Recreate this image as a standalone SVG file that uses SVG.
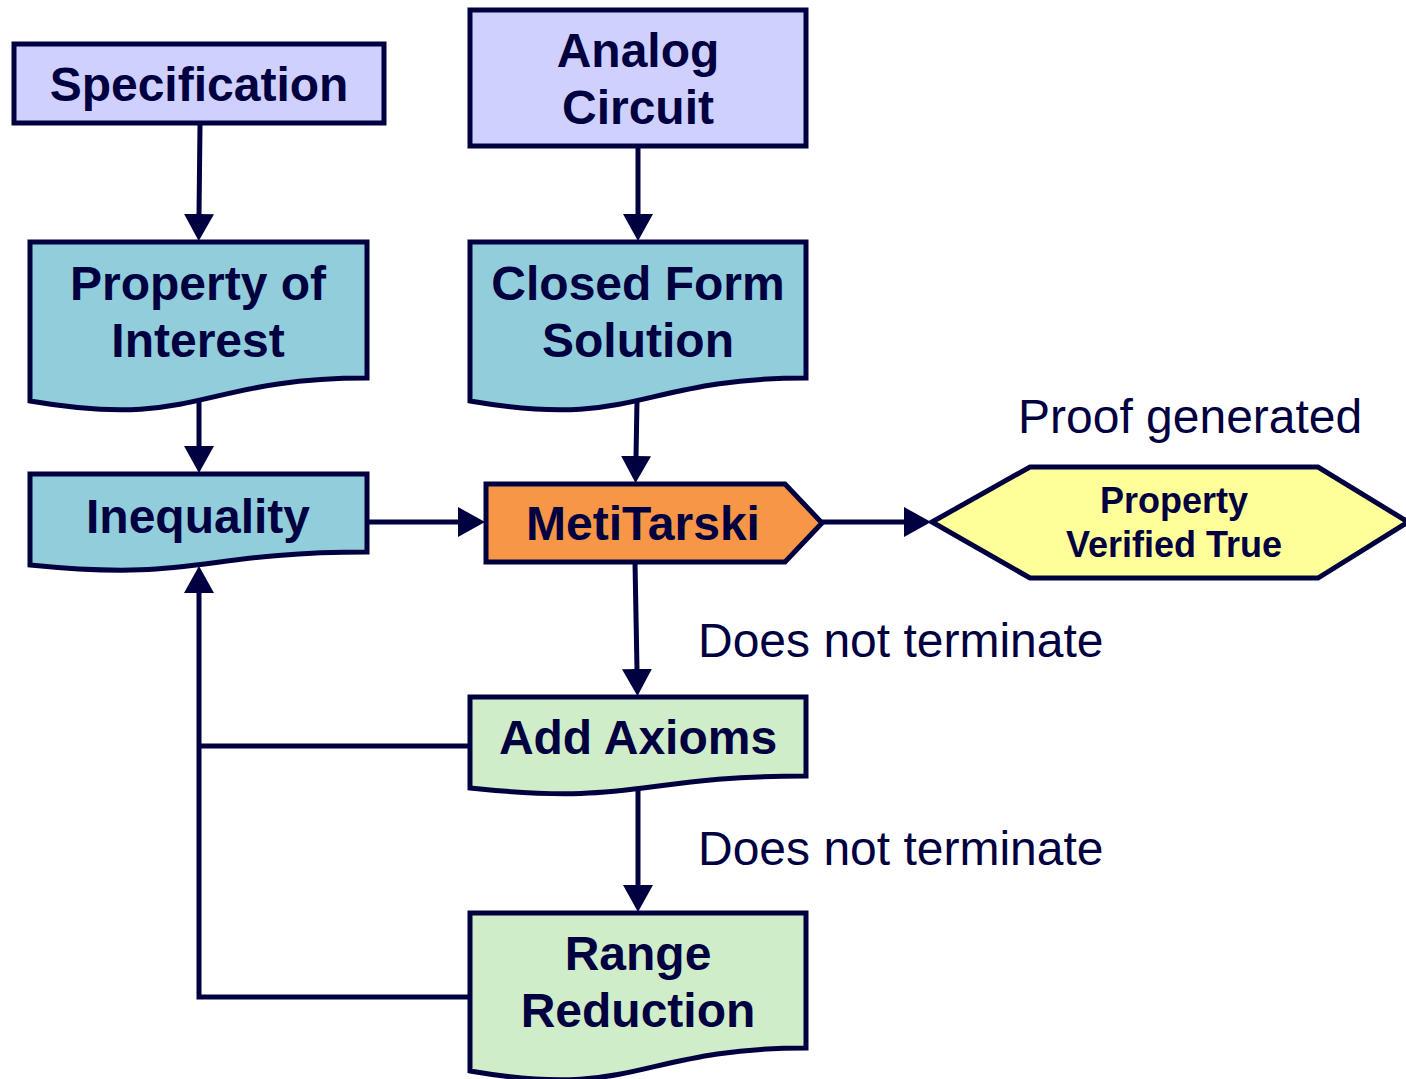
<svg xmlns="http://www.w3.org/2000/svg" width="1406" height="1079" viewBox="0 0 1406 1079">
  <style>
    .shape { stroke: #000040; stroke-width: 5; stroke-linejoin: miter; }
    .spec { fill: #d0d0ff; }
    .blue { fill: #92cddc; }
    .orange { fill: #f79646; }
    .green { fill: #cfedc9; }
    .yellow { fill: #ffff99; }
    .t { font-family: "Liberation Sans", Arial, sans-serif; font-weight: bold; font-size: 48px; fill: #000040; text-anchor: middle; }
    .small { font-size: 36px; }
    .label { font-family: "Liberation Sans", Arial, sans-serif; font-size: 48px; fill: #000040; }
    .edge { fill: none; stroke: #000040; stroke-width: 5; stroke-linejoin: miter; }
  </style>
  <defs>
    <marker id="arrow" viewBox="0 0 28 30" refX="1" refY="15" markerWidth="28" markerHeight="30" markerUnits="userSpaceOnUse" orient="auto">
      <path d="M0,0 L27,15 L0,30 Z" fill="#000040"/>
    </marker>
  </defs>

  <rect width="1406" height="1079" fill="#ffffff"/>

  <!-- connectors -->
  <g id="connectors">
    <path class="edge" d="M200,125 L199,215" marker-end="url(#arrow)"/>
    <path class="edge" d="M638,148 L638,215" marker-end="url(#arrow)"/>
    <path class="edge" d="M199,400 L199,447" marker-end="url(#arrow)"/>
    <path class="edge" d="M637,400 L636,457" marker-end="url(#arrow)"/>
    <path class="edge" d="M367,522 L459,522" marker-end="url(#arrow)"/>
    <path class="edge" d="M822,522 L905,522" marker-end="url(#arrow)"/>
    <path class="edge" d="M635,562 L637,670" marker-end="url(#arrow)"/>
    <path class="edge" d="M638,786 L638,886" marker-end="url(#arrow)"/>
    <path class="edge" d="M470,746 H199"/>
    <path class="edge" d="M470,997 H199 V592" marker-end="url(#arrow)"/>
  </g>

  <!-- Specification -->
  <g id="specification">
    <rect class="shape spec" x="14" y="44" width="370" height="79"/>
    <text class="t" x="199" y="101">Specification</text>
  </g>

  <!-- Analog Circuit -->
  <g id="analog-circuit">
    <rect class="shape spec" x="470" y="10" width="336" height="136"/>
    <text class="t" x="638" y="67">Analog</text>
    <text class="t" x="638" y="124">Circuit</text>
  </g>

  <!-- Property of Interest -->
  <g id="property-of-interest">
    <path class="shape blue" d="M30,242 H367 V378 C198.5,378 198.5,430 30,401 Z"/>
    <text class="t" x="198" y="300">Property of</text>
    <text class="t" x="198" y="357">Interest</text>
  </g>

  <!-- Closed Form Solution -->
  <g id="closed-form-solution">
    <path class="shape blue" d="M470,242 H806 V378 C638,378 638,430 470,401 Z"/>
    <text class="t" x="638" y="300">Closed Form</text>
    <text class="t" x="638" y="357">Solution</text>
  </g>

  <!-- Inequality -->
  <g id="inequality">
    <path class="shape blue" d="M30,474 H367 V552 C198.5,552 198.5,582 30,565 Z"/>
    <text class="t" x="198" y="533">Inequality</text>
  </g>

  <!-- MetiTarski -->
  <g id="metitarski">
    <path class="shape orange" d="M486,484 H785 L822,523 L785,562 H486 Z"/>
    <text class="t" x="643" y="540">MetiTarski</text>
  </g>

  <!-- Property Verified True -->
  <g id="property-verified">
    <path class="shape yellow" d="M932,522 L1030,467 H1318 L1408,522 L1318,578 H1030 Z"/>
    <text class="t small" x="1174" y="513">Property</text>
    <text class="t small" x="1174" y="557">Verified True</text>
  </g>

  <!-- Add Axioms -->
  <g id="add-axioms">
    <path class="shape green" d="M470,697 H806 V776 C638,776 638,806 470,788 Z"/>
    <text class="t" x="638" y="754">Add Axioms</text>
  </g>

  <!-- Range Reduction -->
  <g id="range-reduction">
    <path class="shape green" d="M470,913 H806 V1048 C638,1048 638,1100 470,1071 Z"/>
    <text class="t" x="638" y="970">Range</text>
    <text class="t" x="638" y="1027">Reduction</text>
  </g>

  <!-- edge labels -->
  <g id="labels">
    <text class="label" x="1018" y="433">Proof generated</text>
    <text class="label" x="698" y="657">Does not terminate</text>
    <text class="label" x="698" y="865">Does not terminate</text>
  </g>
</svg>
